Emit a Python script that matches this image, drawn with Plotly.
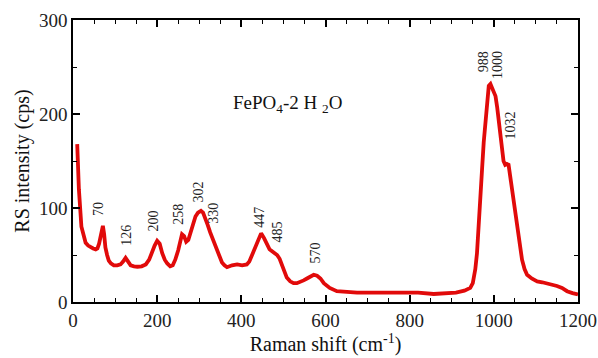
import plotly.graph_objects as go

# Raman spectrum of FePO4-2H2O
raman_shift = [10, 14, 20, 25, 30, 36, 42, 48, 54, 58, 62, 66, 71, 74, 77, 81, 85, 90, 97, 105, 113, 119,
               125, 131, 137, 145, 153, 163, 173, 181, 188, 194, 200, 206, 212, 218, 224, 231, 237, 243, 250,
               255, 259, 264, 269, 274, 279, 285, 291, 297, 304, 309, 314, 320, 326, 334, 342, 348, 354, 360,
               366, 378, 390, 402, 413, 419, 425, 432, 439, 443, 447, 454, 461, 467, 473, 479, 485, 491, 497,
               503, 508, 516, 524, 532, 540, 548, 556, 564, 572, 580, 588, 596, 610, 627, 650, 675, 699, 740,
               778, 820, 857, 888, 910, 930, 944, 950, 956, 960, 964, 968, 972, 976, 980, 984, 988, 992, 996,
               1000, 1004, 1008, 1011, 1015, 1019, 1023, 1027, 1031, 1035, 1039, 1043, 1047, 1051, 1055, 1059,
               1063, 1067, 1073, 1079, 1090, 1103, 1115, 1126, 1138, 1150, 1162, 1174, 1187, 1200]
intensity = [168, 120, 80, 70, 63, 60, 58, 57, 56, 57, 62, 70, 81, 72, 58, 50, 44, 41, 39, 39, 40, 43,
             47, 43, 39, 38, 37.5, 38, 40, 45, 54, 60, 65, 62, 52, 45, 41, 38, 39, 45, 55,
             66, 72, 70, 64, 66, 73, 83, 91, 95, 97, 95, 90, 82, 74, 64, 54, 48, 42, 39,
             37, 39, 40, 39, 40, 43, 50, 58, 66, 70, 73, 68, 61, 56, 54, 52, 50, 46, 38,
             31, 26, 22, 20, 20, 21, 23, 25, 27, 29, 28, 25, 20, 15, 11.5, 10.5, 10, 10, 10,
             11, 10, 8.5, 9, 10, 12, 15, 20, 35, 52, 77, 108, 141, 170, 194, 215, 230, 232, 228,
             224, 219, 207, 194, 176, 159, 150, 146, 147, 146, 133, 120, 108, 98, 84, 70,
             56, 45, 35, 29, 25, 22, 21, 20, 19, 17, 15, 11.5, 9.5, 8]

# Peak annotations: label, x position, y position (data units)
peak_labels = ["70", "126", "200", "258", "302", "330", "447", "485", "570", "988", "1000", "1032"]
peak_label_x = [62, 127, 191, 250, 298, 333, 443, 485, 576, 974, 1007, 1039]
peak_label_y = [99, 71, 86, 93, 117, 94, 90, 74, 52, 256, 252, 188]

x_ticks = [0, 200, 400, 600, 800, 1000, 1200]
y_ticks = [0, 100, 200, 300]

FONT = "Liberation Serif, Times New Roman, serif"

fig = go.Figure()
fig.add_trace(go.Scatter(x=raman_shift, y=intensity, mode="lines",
                         line=dict(color="#e10a0a", width=3.8), hoverinfo="skip",
                         showlegend=False))

for lab, lx, ly in zip(peak_labels, peak_label_x, peak_label_y):
    fig.add_annotation(x=lx, y=ly, text=lab, showarrow=False, textangle=-90,
                       font=dict(family=FONT, size=14, color="#222"))

fig.add_annotation(x=509, y=211, text="FePO<sub>4</sub>-2 H <sub>2</sub>O", showarrow=False,
                   font=dict(family=FONT, size=19, color="#111"))

axis_common = dict(showline=True, linecolor="black", linewidth=1.5, mirror="allticks",
                   ticks="inside", tickcolor="black", tickwidth=1.5, ticklen=7,
                   showgrid=False, zeroline=False, automargin=False,
                   tickfont=dict(family=FONT, size=19, color="#222"))

fig.update_xaxes(range=[0, 1200], tickvals=x_ticks, ticktext=[str(v) for v in x_ticks],
                 minor=dict(dtick=50, tick0=0, ticks="inside", ticklen=4, tickcolor="black", tickwidth=1.2),
                 title=dict(text="Raman shift (cm<sup>-1</sup>)", font=dict(family=FONT, size=20, color="#111"),
                            standoff=4),
                 **axis_common)
fig.update_yaxes(range=[0, 300], tickvals=y_ticks, ticktext=[str(v) for v in y_ticks],
                 minor=dict(dtick=50, tick0=0, ticks="inside", ticklen=4, tickcolor="black", tickwidth=1.2),
                 title=dict(text="RS intensity (cps)", font=dict(family=FONT, size=20, color="#111"),
                            standoff=4),
                 **axis_common)

fig.update_layout(width=598, height=358, margin=dict(l=73, r=20, t=20, b=56),
                  plot_bgcolor="white", paper_bgcolor="white")

fig.write_html("out.html", config={"displayModeBar": False},
               post_script="document.body.style.margin='0';document.body.style.overflow='hidden';")
